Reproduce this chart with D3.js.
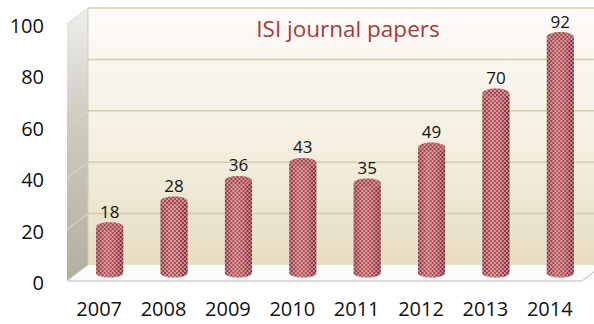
<!DOCTYPE html>
<html>
<head>
<meta charset="utf-8">
<script src="https://cdn.jsdelivr.net/npm/d3@7"></script>
<style>
  body { margin: 0; background: #fff; }
  svg { display: block; font-family: "Open Sans", "Noto Sans", sans-serif; }
</style>
</head>
<body>
<script>
// chart data
var years = ["2007", "2008", "2009", "2010", "2011", "2012", "2013", "2014"];
var papers = [18, 28, 36, 43, 35, 49, 70, 92];
var yTicks = [0, 20, 40, 60, 80, 100];
var chartTitle = "ISI journal papers";

var W = 594, H = 324;
var depth = {x: 21, y: -16};   // offset of the back wall

var svg = d3.select("body").append("svg")
    .attr("width", W)
    .attr("height", H);

var x = d3.scaleBand()
    .domain(years)
    .range([67, 582])
    .paddingInner(0.58)
    .paddingOuter(0.29);

var y = d3.scaleLinear()
    .domain([0, 100])
    .range([281, 24]);

var defs = svg.append("defs");

var wallGrad = defs.append("linearGradient")
    .attr("id", "wall").attr("x1", 0).attr("y1", 0).attr("x2", 0).attr("y2", 1);
wallGrad.append("stop").attr("offset", "0%").attr("stop-color", "#fdfbf9");
wallGrad.append("stop").attr("offset", "50%").attr("stop-color", "#f5f0e2");
wallGrad.append("stop").attr("offset", "100%").attr("stop-color", "#e6ddc2");

var sideGrad = defs.append("linearGradient")
    .attr("id", "side").attr("x1", 0).attr("y1", 0).attr("x2", 0).attr("y2", 1);
sideGrad.append("stop").attr("offset", "0%").attr("stop-color", "#eeeeec");
sideGrad.append("stop").attr("offset", "40%").attr("stop-color", "#cfccc2");
sideGrad.append("stop").attr("offset", "100%").attr("stop-color", "#b2ae9f");

var barGrad = defs.append("linearGradient")
    .attr("id", "barShade").attr("x1", 0).attr("y1", 0).attr("x2", 1).attr("y2", 0);
barGrad.append("stop").attr("offset", "0%").attr("stop-color", "#8a2e38");
barGrad.append("stop").attr("offset", "35%").attr("stop-color", "#b8565f");
barGrad.append("stop").attr("offset", "65%").attr("stop-color", "#ad4a54");
barGrad.append("stop").attr("offset", "100%").attr("stop-color", "#7a2430");

var dots = defs.append("pattern")
    .attr("id", "dots")
    .attr("patternUnits", "userSpaceOnUse")
    .attr("width", 4).attr("height", 4);
dots.append("circle").attr("cx", 1).attr("cy", 1).attr("r", 0.9).attr("fill", "#f8e0e0").attr("opacity", 0.8);
dots.append("circle").attr("cx", 3).attr("cy", 3).attr("r", 0.9).attr("fill", "#f8e0e0").attr("opacity", 0.8);

var x0 = x.range()[0], x1 = x.range()[1];

// back wall
svg.append("path")
    .attr("d", "M" + (x0 + depth.x) + "," + (y(100) + depth.y) +
        "L" + (x1 + depth.x + 30) + "," + (y(100) + depth.y) +
        "L" + (x1 + depth.x + 30) + "," + (y(0) + depth.y) +
        "L" + (x0 + depth.x) + "," + (y(0) + depth.y) + "Z")
    .attr("fill", "url(#wall)");

// side wall
svg.append("path")
    .attr("d", "M" + x0 + "," + y(100) +
        "L" + (x0 + depth.x) + "," + (y(100) + depth.y) +
        "L" + (x0 + depth.x) + "," + (y(0) + depth.y) +
        "L" + x0 + "," + y(0) + "Z")
    .attr("fill", "url(#side)");

// floor
svg.append("path")
    .attr("d", "M" + x0 + "," + y(0) +
        "L" + (x0 + depth.x) + "," + (y(0) + depth.y) +
        "L" + (x1 + depth.x + 30) + "," + (y(0) + depth.y) +
        "L" + (x1 + 30) + "," + y(0) +
        "L" + x0 + "," + y(0) + "Z")
    .attr("fill", "#fbfbfa");
svg.append("path")
    .attr("d", "M" + x0 + "," + y(0) + "L" + x1 + "," + y(0) +
        "L" + (x1 + depth.x) + "," + (y(0) + depth.y))
    .attr("fill", "none")
    .attr("stroke", "#b9b9b4")
    .attr("stroke-width", 1);

// grid lines on back and side walls
var grid = svg.append("g");
grid.selectAll(".gback")
    .data(yTicks.slice(1))
    .enter().append("line")
    .attr("x1", x0 + depth.x).attr("x2", W)
    .attr("y1", function(d) { return y(d) + depth.y; })
    .attr("y2", function(d) { return y(d) + depth.y; })
    .attr("stroke", "#d3ccac").attr("stroke-width", 1.5);
grid.selectAll(".gside")
    .data(yTicks)
    .enter().append("line")
    .attr("x1", x0).attr("x2", x0 + depth.x)
    .attr("y1", function(d) { return y(d); })
    .attr("y2", function(d) { return y(d) + depth.y; })
    .attr("stroke", "#dcdad0").attr("stroke-width", 1);
grid.append("line")
    .attr("x1", x0 + depth.x).attr("x2", x0 + depth.x)
    .attr("y1", y(100) + depth.y).attr("y2", y(0) + depth.y)
    .attr("stroke", "#cfccc0");

// title
svg.append("text")
    .attr("x", 348).attr("y", 37)
    .attr("text-anchor", "middle")
    .attr("fill", "#a33b3f")
    .attr("font-size", 22.5)
    .text(chartTitle);

// cylinders
var rx = x.bandwidth() / 2, ry = 4.5;
var bars = svg.selectAll(".bar")
    .data(years.map(function(yr, i) { return {year: yr, value: papers[i]}; }))
    .enter().append("g")
    .attr("class", "bar")
    .attr("transform", function(d) {
        return "translate(" + (x(d.year) + rx + depth.x / 2) + "," + (depth.y / 2) + ")";
    });

function cylPath(d) {
    var top = y(d.value), bot = y(0);
    return "M" + (-rx) + "," + top +
        "L" + (-rx) + "," + bot +
        "A" + rx + "," + ry + " 0 0 0 " + rx + "," + bot +
        "L" + rx + "," + top +
        "A" + rx + "," + ry + " 0 0 1 " + (-rx) + "," + top + "Z";
}

bars.append("path").attr("d", cylPath).attr("fill", "url(#barShade)");
bars.append("path").attr("d", cylPath).attr("fill", "url(#dots)");
bars.append("ellipse")
    .attr("cx", 0).attr("cy", function(d) { return y(d.value); })
    .attr("rx", rx).attr("ry", ry)
    .attr("fill", "#a0444d");
bars.append("ellipse")
    .attr("cx", 0).attr("cy", function(d) { return y(d.value); })
    .attr("rx", rx).attr("ry", ry)
    .attr("fill", "url(#dots)");

// data labels
bars.append("text")
    .attr("x", 0)
    .attr("y", function(d) { return y(d.value) - 9; })
    .attr("text-anchor", "middle")
    .attr("font-size", 17)
    .attr("fill", "#111")
    .text(function(d) { return d.value; });

// y axis labels
svg.selectAll(".ylab")
    .data(yTicks)
    .enter().append("text")
    .attr("x", 44)
    .attr("y", function(d) { return y(d) + 9; })
    .attr("text-anchor", "end")
    .attr("font-size", 20)
    .attr("fill", "#111")
    .text(function(d) { return d; });

// x axis labels
svg.selectAll(".xlab")
    .data(years)
    .enter().append("text")
    .attr("x", function(d) { return x(d) + rx; })
    .attr("y", 316)
    .attr("text-anchor", "middle")
    .attr("font-size", 20)
    .attr("fill", "#111")
    .text(function(d) { return d; });
</script>
</body>
</html>
